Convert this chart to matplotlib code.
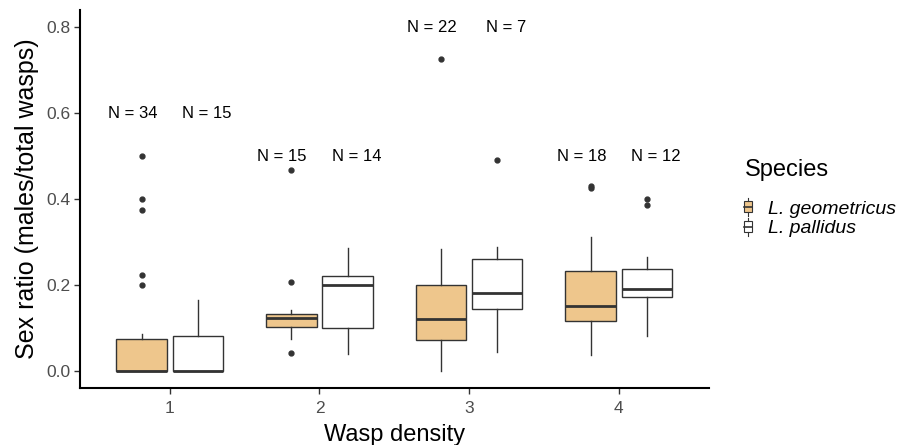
import matplotlib
matplotlib.use("Agg")
import matplotlib.pyplot as plt
from matplotlib.legend_handler import HandlerBase
from matplotlib.patches import Rectangle, Patch
from matplotlib.lines import Line2D

plt.rcParams['font.family'] = ['Liberation Sans', 'DejaVu Sans']

# Data (box stats per wasp density)
density = [1, 2, 3, 4]

geo_wlo = [0.0, 0.075, 0.0, 0.037]
geo_q1 = [0.0, 0.101, 0.072, 0.115]
geo_med = [0.0, 0.122, 0.121, 0.150]
geo_q3 = [0.075, 0.132, 0.200, 0.233]
geo_whi = [0.086, 0.142, 0.284, 0.311]
geo_fliers = [[0.2, 0.222, 0.375, 0.4, 0.5], [0.041, 0.208, 0.468], [0.726], [0.425, 0.43]]
geo_n = [34, 15, 22, 18]

pal_wlo = [0.0, 0.040, 0.044, 0.081]
pal_q1 = [0.0, 0.100, 0.144, 0.173]
pal_med = [0.0, 0.200, 0.182, 0.190]
pal_q3 = [0.082, 0.221, 0.261, 0.238]
pal_whi = [0.166, 0.287, 0.289, 0.265]
pal_fliers = [[], [], [0.49], [0.385, 0.40]]
pal_n = [15, 14, 7, 12]

label_y = [0.6, 0.5, 0.8, 0.5]

species = ['L. geometricus', 'L. pallidus']
fills = ['#EEC68C', 'white']
edge = '#333333'


def make_stats(wlo, q1, med, q3, whi, fliers):
    return [dict(whislo=a, q1=b, med=c, q3=d, whishi=e, fliers=f)
            for a, b, c, d, e, f in zip(wlo, q1, med, q3, whi, fliers)]


fig = plt.figure(figsize=(9.15, 4.45), dpi=100)
ax = fig.add_axes([0.0874, 0.128, 0.687, 0.8495])

box_w = 0.3375
offset = 0.1875
groups = [
    make_stats(geo_wlo, geo_q1, geo_med, geo_q3, geo_whi, geo_fliers),
    make_stats(pal_wlo, pal_q1, pal_med, pal_q3, pal_whi, pal_fliers),
]
for i, stats in enumerate(groups):
    pos = [d + (i * 2 - 1) * offset for d in density]
    ax.bxp(stats, positions=pos, widths=box_w, patch_artist=True,
           showcaps=False, manage_ticks=False,
           boxprops=dict(facecolor=fills[i], edgecolor=edge, linewidth=1.0),
           whiskerprops=dict(color=edge, linewidth=1.0),
           medianprops=dict(color=edge, linewidth=2.0, solid_capstyle='butt'),
           flierprops=dict(marker='o', markersize=3.5, markerfacecolor=edge,
                           markeredgecolor=edge, linestyle='none'))

# sample size labels
for d, ny, ng, np_ in zip(density, label_y, geo_n, pal_n):
    ax.text(d - 0.25, ny, f'N = {ng}', ha='center', va='center', fontsize=12, color='black')
    ax.text(d + 0.25, ny, f'N = {np_}', ha='center', va='center', fontsize=12, color='black')

ax.set_xlim(0.4, 4.6)
ax.set_ylim(-0.04, 0.84)
ax.set_xticks(density)
ax.set_xticklabels([str(d) for d in density])
ax.set_yticks([0.0, 0.2, 0.4, 0.6, 0.8])
ax.set_yticklabels(['0.0', '0.2', '0.4', '0.6', '0.8'])
ax.tick_params(axis='both', colors='#333333', labelcolor='#4D4D4D', labelsize=12.5,
               length=4, width=1.0)
ax.tick_params(axis='x', pad=5)
ax.tick_params(axis='y', pad=3)

for s in ['top', 'right']:
    ax.spines[s].set_visible(False)
for s in ['left', 'bottom']:
    ax.spines[s].set_linewidth(1.5)
    ax.spines[s].set_color('black')

ax.set_xlabel('Wasp density', fontsize=17, labelpad=6)
ax.set_ylabel('Sex ratio (males/total wasps)', fontsize=18, labelpad=5)


class BoxKey(HandlerBase):
    def create_artists(self, legend, orig_handle, xdescent, ydescent,
                       width, height, fontsize, trans):
        cx = width / 2 - xdescent
        bw = width * 0.5
        rect = Rectangle((cx - bw / 2, height * 0.2 - ydescent), bw, height * 0.6,
                         facecolor=orig_handle.get_facecolor(), edgecolor='#333333',
                         linewidth=0.8, transform=trans)
        med = Line2D([cx - bw / 2, cx + bw / 2], [height * 0.5 - ydescent] * 2,
                     color='#333333', linewidth=1.2, transform=trans)
        top = Line2D([cx, cx], [height * 0.8 - ydescent, height * 1.0 - ydescent],
                     color='#333333', linewidth=0.8, transform=trans)
        bot = Line2D([cx, cx], [0.0 - ydescent, height * 0.2 - ydescent],
                     color='#333333', linewidth=0.8, transform=trans)
        return [rect, med, top, bot]


fig.text(0.8145, 1 - 170 / 445, 'Species', fontsize=17, ha='left', va='center')

handles = [Patch(facecolor=f, edgecolor=edge) for f in fills]
leg = fig.legend(handles, species, handler_map={Patch: BoxKey()},
                 loc='center left', bbox_to_anchor=(0.808, 1 - 217.5 / 445), frameon=False,
                 fontsize=14, handlelength=0.9, handleheight=1.05, handletextpad=0.6,
                 labelspacing=0.0, borderaxespad=0, borderpad=0)
for t in leg.get_texts():
    t.set_fontstyle('italic')

fig.savefig('out.png', dpi=100)
